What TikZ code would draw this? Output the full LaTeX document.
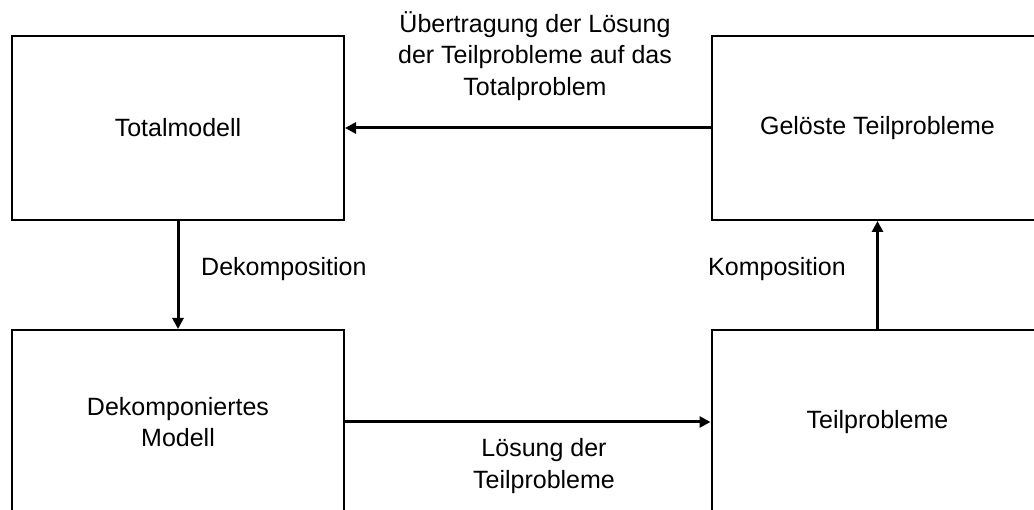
\documentclass[tikz,border=0pt]{standalone}
\usepackage{fontspec}
\setmainfont{Liberation Sans}
\usetikzlibrary{arrows.meta}
\begin{document}
\begin{tikzpicture}[x=1pt,y=-1pt,
  box/.style={draw, line width=2pt, minimum width=332pt, minimum height=184pt,
    inner sep=0pt, align=center, font=\fontsize{25}{31.5}\selectfont},
  lbl/.style={inner sep=0pt, align=center, font=\fontsize{25}{31.5}\selectfont},
  flow/.style={line width=3pt, -{Triangle[length=11pt,width=11pt]}}]
\useasboundingbox (0,0) rectangle (1034,510);
\clip (0,0) rectangle (1034,510);
% the four stages
\node[box] (total) at (178,128) {Totalmodell};
\node[box] (geloest) at (877.5,128) {Gelöste Teilprobleme};
\node[box] (dekomp) at (178,422) {Dekomponiertes\\Modell};
\node[box] (teil) at (877.5,422) {Teilprobleme};
% transitions between stages
\draw[flow] (total.south) -- (dekomp.north);
\draw[flow] (dekomp.east) -- (teil.west);
\draw[flow] (teil.north) -- (geloest.south);
\draw[flow] (geloest.west) -- (total.east);
% transition labels
\node[lbl] (l1) at (535,56) {Übertragung der Lösung\\der Teilprobleme auf das\\Totalproblem};
\node[lbl, anchor=west] (l2) at (201,269) {Dekomposition};
\node[lbl, anchor=east] (l3) at (846,269) {Komposition};
\node[lbl] (l4) at (544,466) {Lösung der\\Teilprobleme};
\end{tikzpicture}
\end{document}
